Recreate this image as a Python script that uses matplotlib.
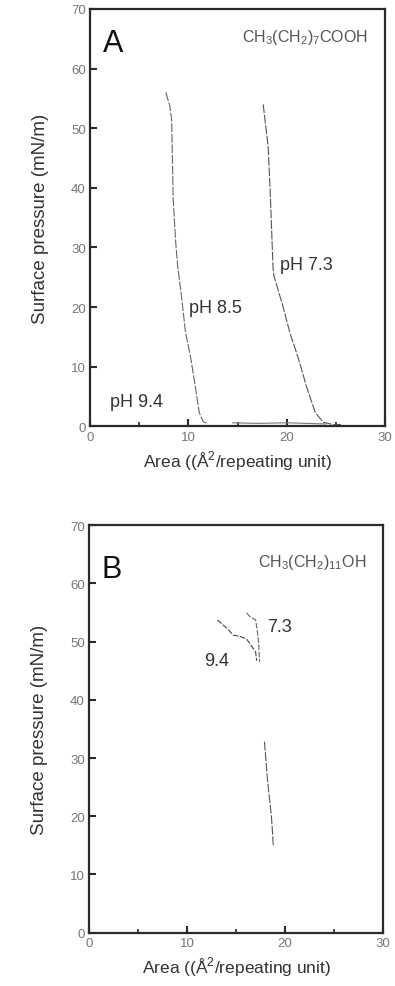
import numpy as np
import matplotlib
matplotlib.use("Agg")
import matplotlib.pyplot as plt

plt.rcParams["font.family"] = ["Liberation Sans", "DejaVu Sans"]
plt.rcParams["mathtext.fontset"] = "custom"
plt.rcParams["mathtext.rm"] = "Liberation Sans"

# panel A: fatty acid isotherms
a_x_73 = [17.6, 18.1, 18.3, 18.4, 18.6, 18.7, 19.6, 20.3, 21.2, 22.0, 22.9, 23.7, 24.7, 25.5]
a_y_73 = [54.0, 47.0, 40.0, 35.6, 26.7, 25.2, 20.2, 15.8, 11.3, 6.7, 2.3, 0.7, 0.3, 0.3]
a_x_85 = [7.7, 8.1, 8.3, 8.45, 8.7, 8.9, 9.3, 9.7, 10.2, 10.7, 11.1, 11.5, 12.0]
a_y_85 = [56.0, 53.8, 51.3, 38.2, 31.0, 27.0, 21.8, 15.8, 11.8, 6.7, 2.3, 0.8, 0.4]
a_x_94 = [14.5, 17.0, 20.0, 22.0, 24.0]
a_y_94 = [0.6, 0.5, 0.6, 0.5, 0.4]

# panel B: alcohol isotherms
b_x_94 = [13.1, 14.2, 14.7, 15.4, 16.1, 16.6, 17.0, 17.1]
b_y_94 = [53.7, 52.1, 51.1, 50.9, 50.4, 49.2, 48.2, 46.7]
b_x_73 = [16.1, 16.4, 17.0, 17.2, 17.3, 17.4]
b_y_73 = [54.9, 54.3, 53.7, 51.5, 49.9, 46.5]
b_x_low = [17.9, 18.2, 18.6, 18.7, 18.8]
b_y_low = [32.8, 26.4, 20.1, 17.8, 14.9]

xticks = [0, 10, 20, 30]
yticks = [0, 10, 20, 30, 40, 50, 60, 70]
ink = "#2a2a2a"

fig = plt.figure(figsize=(3.95, 9.87), dpi=100)
axA = fig.add_axes([0.228, 0.567, 0.747, 0.423])
axB = fig.add_axes([0.225, 0.054, 0.745, 0.413])

for ax in (axA, axB):
    ax.set_xlim(0, 30)
    ax.set_ylim(0, 70)
    ax.set_xticks(xticks)
    ax.set_xticks([5, 15, 25], minor=True)
    ax.set_yticks(yticks)
    ax.tick_params(axis="both", which="major", direction="in", length=5, width=1.5,
                   labelsize=9.5, labelcolor="#777777", color=ink, pad=3)
    ax.tick_params(axis="y", which="major", left=True, right=False)
    ax.tick_params(axis="x", which="major", top=False)
    ax.tick_params(axis="x", which="minor", direction="in", length=3, width=1.2, color=ink)
    for s in ax.spines.values():
        s.set_linewidth(1.6)
        s.set_color(ink)
    ax.set_ylabel("Surface pressure (mN/m)", fontsize=13.5, color="#333333", labelpad=16)
    ax.set_xlabel(r"Area ((Å$^2$/repeating unit)", fontsize=12.5, color="#333333", labelpad=4)

axA.plot(a_x_73, a_y_73, color="#555555", lw=0.8, dashes=(8, 1.5))
axA.plot(a_x_85, a_y_85, color="#666666", lw=0.8, dashes=(8, 1.5))
axA.plot(a_x_94, a_y_94, color="#777777", lw=0.8)
axA.text(1.3, 63.0, "A", fontsize=22, color="#111111")
axA.text(28.3, 65.3, r"CH$_3$(CH$_2$)$_7$COOH", fontsize=11.5, color="#555555", ha="right", va="center")
axA.text(19.3, 27.2, "pH 7.3", fontsize=13, color="#333333", va="center")
axA.text(10.1, 20.0, "pH 8.5", fontsize=13, color="#333333", va="center")
axA.text(2.0, 4.2, "pH 9.4", fontsize=13, color="#333333", va="center")

axB.plot(b_x_94, b_y_94, color="#444444", lw=0.8, dashes=(5, 1.5))
axB.plot(b_x_73, b_y_73, color="#666666", lw=0.8, dashes=(5, 1.5))
axB.plot(b_x_low, b_y_low, color="#555555", lw=0.8, dashes=(8, 1.5))
axB.text(1.3, 61.0, "B", fontsize=22, color="#111111")
axB.text(28.3, 63.8, r"CH$_3$(CH$_2$)$_{11}$OH", fontsize=11.5, color="#555555", ha="right", va="center")
axB.text(18.2, 52.5, "7.3", fontsize=13, color="#333333", va="center")
axB.text(11.7, 46.7, "9.4", fontsize=13, color="#333333", va="center")

fig.savefig("out.png", dpi=100)
